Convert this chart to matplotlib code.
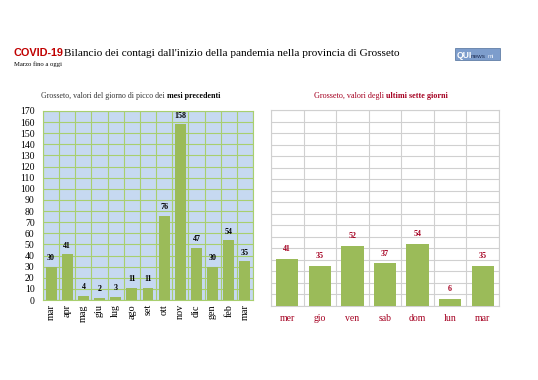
import matplotlib.pyplot as plt
from matplotlib.patches import Rectangle

# Dati: valori del giorno di picco dei mesi precedenti
mesi = ["mar", "apr", "mag", "giu", "lug", "ago", "set", "ott", "nov", "dic", "gen", "feb", "mar"]
picchi = [30, 41, 4, 2, 3, 11, 11, 76, 158, 47, 30, 54, 35]

# Dati: ultimi sette giorni
giorni = ["mer", "gio", "ven", "sab", "dom", "lun", "mar"]
ultimi = [41, 35, 52, 37, 54, 6, 35]

verde = "#9bbb59"
rosso = "#a50021"
serif = "Liberation Serif"

fig = plt.figure(figsize=(5.38, 3.80), dpi=100)
fig.patch.set_facecolor("white")

# Titolo
fig.text(14 / 538, 1 - 56 / 380, "COVID-19", fontsize=7.8, fontweight="bold",
         color="#c00000", family="Liberation Sans", va="baseline")
fig.text(64 / 538, 1 - 56 / 380, "Bilancio dei contagi dall'inizio della pandemia nella provincia di Grosseto",
         fontsize=8.1, family=serif, va="baseline")
fig.text(14 / 538, 1 - 66 / 380, "Marzo fino a oggi", fontsize=4.8, family=serif, va="baseline")

# Logo
fig.patches.append(Rectangle((455 / 538, 1 - 60 / 380), 45 / 538, 12 / 380,
                             transform=fig.transFigure, facecolor="#7d9dcc", edgecolor="#4f6f9a", lw=0.5))
fig.text(456.5 / 538, 1 - 57.5 / 380, "QUI", fontsize=6.2, fontweight="bold", color="white",
         family="Liberation Sans", va="baseline")
fig.text(471 / 538, 1 - 57.5 / 380, "news", fontsize=4.6, color="#1f2f55",
         family="Liberation Sans", va="baseline")
fig.text(488 / 538, 1 - 57.5 / 380, "mi", fontsize=4.2, color="#e8eef8",
         family="Liberation Sans", va="baseline")

# Grafico sinistro
ax1 = fig.add_axes([43 / 538, 1 - 300 / 380, 210 / 538, 189 / 380])
ax1.set_facecolor("#c6d9f1")
x1 = range(len(mesi))
ax1.bar(x1, picchi, width=0.68, color=verde, zorder=3)
ax1.set_xlim(-0.5, len(mesi) - 0.5)
ax1.set_ylim(0, 170)
ax1.set_yticks(range(0, 171, 10))
ax1.set_xticks(list(x1))
ax1.set_xticks([i - 0.5 for i in range(len(mesi) + 1)], minor=True)
ax1.set_xticklabels(mesi, rotation=90, family=serif, fontsize=7.3)
ax1.tick_params(axis="y", which="both", labelsize=7, length=0, pad=6)
ax1.tick_params(axis="x", which="both", length=0, pad=3)
for lab in ax1.get_yticklabels():
    lab.set_family(serif)
ax1.grid(True, which="major", axis="y", color="#a8cf6f", lw=0.8, zorder=1)
ax1.grid(True, which="minor", axis="x", color="#a8cf6f", lw=0.8, zorder=1)
for s in ax1.spines.values():
    s.set_color("#a8cf6f")
    s.set_linewidth(0.8)
for xi, v in zip(x1, picchi):
    ax1.text(xi, v + 4, str(v), ha="center", va="bottom", fontsize=5.8,
             fontweight="bold", family=serif, zorder=4)
fig.text(167 / 538, 1 - 98 / 380, "Grosseto, valori del giorno di picco dei ", fontsize=5.7,
         family=serif, ha="right", va="baseline", color="#333333")
fig.text(167 / 538, 1 - 98 / 380, "mesi precedenti", fontsize=5.7, family=serif,
         fontweight="bold", ha="left", va="baseline")

# Grafico destro
ax2 = fig.add_axes([271 / 538, 1 - 306 / 380, 228 / 538, 196 / 380])
ax2.set_facecolor("white")
x2 = range(len(giorni))
ax2.bar(x2, ultimi, width=0.68, color=verde, zorder=3)
ax2.set_xlim(-0.5, len(giorni) - 0.5)
ax2.set_ylim(0, 170)
ax2.set_yticks(range(0, 171, 10))
ax2.set_yticklabels([])
ax2.set_xticks(list(x2))
ax2.set_xticks([i - 0.5 for i in range(len(giorni) + 1)], minor=True)
ax2.set_xticklabels(giorni, family=serif, fontsize=7, color=rosso)
ax2.tick_params(axis="both", which="both", length=0, pad=6)
ax2.grid(True, which="major", axis="y", color="#d0d0d0", lw=0.8, zorder=1)
ax2.grid(True, which="minor", axis="x", color="#d0d0d0", lw=0.8, zorder=1)
for s in ax2.spines.values():
    s.set_color("#d0d0d0")
    s.set_linewidth(0.8)
for xi, v in zip(x2, ultimi):
    ax2.text(xi, v + 5, str(v), ha="center", va="bottom", fontsize=5.8,
             fontweight="bold", family=serif, color=rosso, zorder=4)
fig.text(386 / 538, 1 - 98 / 380, "Grosseto, valori degli ", fontsize=5.9,
         family=serif, ha="right", va="baseline", color=rosso)
fig.text(386 / 538, 1 - 98 / 380, "ultimi sette giorni", fontsize=5.9, family=serif,
         fontweight="bold", ha="left", va="baseline", color=rosso)

fig.savefig("out.png", dpi=100)
